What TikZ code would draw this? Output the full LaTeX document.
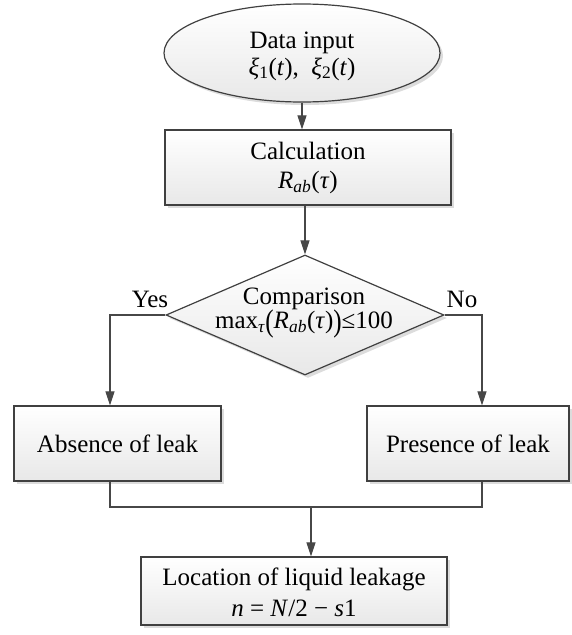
\documentclass[tikz,border=0pt]{standalone}
\usepackage{fontspec}
\setmainfont{Liberation Serif}
\usetikzlibrary{shapes.geometric,arrows.meta,shadows,calc}
\newcommand\mi[1]{\textit{#1}}
\newcommand\bigp[1]{\raisebox{-0.1em}{\scalebox{1}[1.25]{#1}}}
\begin{document}
\begin{tikzpicture}[x=1pt,y=-1pt,
  every node/.style={font=\fontsize{25}{29}\selectfont},
  boxbase/.style={draw=black!75, line width=1.2pt, top color=white, bottom color=black!9,
    drop shadow={shadow xshift=3pt, shadow yshift=-3pt, fill=black!30, opacity=0.45},
    align=center, inner sep=0pt},
  procbox/.style={boxbase, rectangle},
  arr/.style={draw=black!72, line width=1.1pt, -{Triangle[length=14pt,width=9pt]}},
  ln/.style={draw=black!72, line width=1.1pt},
  lbl/.style={font=\fontsize{25}{29}\selectfont, inner sep=0pt}
]
\useasboundingbox (0,0) rectangle (572,635);

\node[boxbase, ellipse, minimum width=276pt, minimum height=98pt] (in) at (302,53) {};
\node[lbl, align=center] (intxt) at (302,56) {Data input\\[-2pt]\mi{ξ}\textsubscript{1}(\mi{t}),\ \ \mi{ξ}\textsubscript{2}(\mi{t})};

\node[procbox, minimum width=286pt, minimum height=75pt] (calc) at (308,167.5) {};
\node[lbl, align=center] (calctxt) at (308,168) {Calculation\\[0pt]\mi{R}\textsubscript{\mi{ab}}(\mi{τ})};

\node[boxbase, diamond, minimum width=278pt, minimum height=120pt] (cmp) at (305,315) {};
\node[lbl, align=center] (cmptxt) at (304,313) {Comparison\\[-5pt]max\textsubscript{\mi{τ}}\bigp{(}\mi{R}\textsubscript{\mi{ab}}(\mi{τ})\bigp{)}≤100};

\node[procbox, minimum width=207pt, minimum height=75pt] (abs) at (117.5,443.5) {Absence of leak};
\node[procbox, minimum width=202pt, minimum height=75pt] (pres) at (468,443.5) {Presence of leak};

\node[procbox, minimum width=306pt, minimum height=68pt] (loc) at (294,591) {};
\node[lbl, align=center] (loctxt) at (294,592) {Location of liquid leakage\\[2pt]\mi{n} = \mi{N}/2 − \mi{s}1};

\node[lbl] (yes) at (150,299) {Yes};
\node[lbl] (no) at (462,299) {No};

\coordinate (ax) at (110,0);
\coordinate (px) at (482,0);
\coordinate (merge) at (311,507);

\draw[arr] (in.south) -- (in.south |- calc.north);
\draw[arr] (calc.south -| cmp.north) -- (cmp.north);
\draw[arr] (cmp.west) -| (ax |- abs.north);
\draw[arr] (cmp.east) -| (px |- pres.north);
\draw[ln] (ax |- abs.south) -- (ax |- merge) -- (px |- merge) -- (px |- pres.south);
\draw[arr] (merge) -- (merge |- loc.north);
\end{tikzpicture}
\end{document}
